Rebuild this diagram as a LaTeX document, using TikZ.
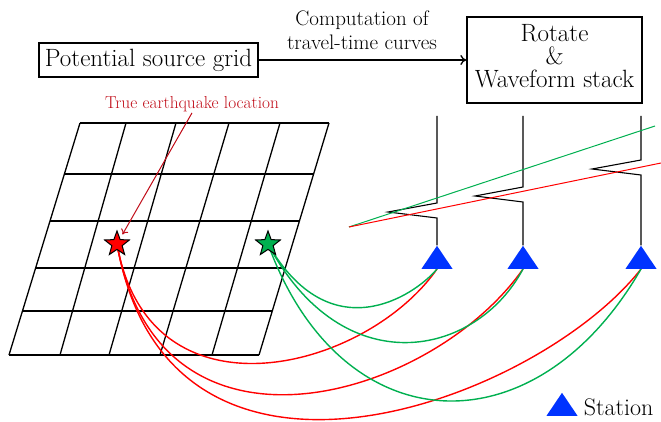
\documentclass[tikz,border=0pt]{standalone}
\usepackage{tikz}
\usetikzlibrary{positioning,arrows.meta,calc,shapes.geometric,backgrounds}
\definecolor{cervena}{RGB}{255,0,0}
\definecolor{zelena}{RGB}{0,176,80}
\definecolor{modra}{RGB}{0,51,255}
\definecolor{tmcervena}{RGB}{192,12,24}
\tikzset{
  ramec/.style={draw,line width=1.3pt,inner sep=4pt,align=center,font=\fontsize{25}{23}\selectfont},
  stanice/.style={isosceles triangle,isosceles triangle stretches,shape border rotate=90,fill=modra,minimum width=31pt,minimum height=23pt,inner sep=0pt},
  hvezda/.style={star,star points=5,star point ratio=2.4,minimum size=26pt,inner sep=0pt,draw=black,line width=1pt},
  stopa/.style={line width=1.1pt},
  mriz/.style={line width=1.3pt},
  paprsekR/.style={cervena,line width=1.4pt},
  paprsekG/.style={zelena,line width=1.4pt},
  sip/.style={-{To[length=6pt,width=10pt]},line width=1.3pt},
}
\begin{document}
\begin{tikzpicture}[x=1pt,y=-1pt]
\useasboundingbox (0,0) rectangle (661,422);
% blocks on top
\node[ramec,minimum width=219pt,minimum height=34pt] (zdroj) at (148.5,60) {Potential source grid};
\node[ramec,minimum width=175pt,minimum height=86pt,text depth=8pt] (stack) at (554.5,60) {Rotate\\\&\\Waveform stack};
\draw[sip] (zdroj) -- (stack);
\node[align=center,font=\fontsize{21}{24}\selectfont] (vypocet) at (362,30) {Computation of\\travel-time curves};
% grid
\begin{scope}[on background layer]
  \foreach \t/\b in {80/9,126/60,176/109,229/160,280/212,329/259}
    \draw[mriz] (\t,123) -- (\b,355);
  \foreach \y in {123,174,221,268,311,355}
    \draw[mriz] ({80-(\y-123)*0.306},\y) -- ({329-(\y-123)*0.302},\y);
\end{scope}
% stations and traces
\node[stanice,anchor=south] (s1) at (437,269) {};
\node[stanice,anchor=south] (s2) at (523,269) {};
\node[stanice,anchor=south] (s3) at (641,269) {};
\foreach \s/\h/\d in {s1/203/388,s2/187/475,s3/160/592}
  \draw[stopa] (\s.apex |- 0,116) -- (\s.apex |- 0,\h) -- (\d,\h+9) -- (\s.apex |- 0,\h+15) -- (\s.apex);
\coordinate (pocatek) at (349,227);
\coordinate (konecG) at (655,126);
\coordinate (konecR) at (661,163);
\draw[zelena,line width=1pt] (pocatek) -- (konecG);
\draw[cervena,line width=1pt] (pocatek) -- (konecR);
% sources
\node[hvezda,fill=cervena] (rz) at (117,244) {};
\node[hvezda,fill=zelena] (gz) at (268,244) {};
\begin{scope}[on background layer]
  \draw[paprsekR] (rz.center) .. controls +(-80:185pt) and +(-125:125pt) .. (s1.south);
  \draw[paprsekR] (rz.center) .. controls +(-80:240pt) and +(-125:159pt) .. (s2.south);
  \draw[paprsekR] (rz.center) .. controls +(-80:300pt) and +(-128:168pt) .. (s3.south);
  \draw[paprsekG] (gz.center) .. controls +(-60:124pt) and +(-130:36pt) .. (s1.south);
  \draw[paprsekG] (gz.center) .. controls +(-62:160pt) and +(-118:100pt) .. (s2.south);
  \draw[paprsekG] (gz.center) .. controls +(-70:213pt) and +(-120:213pt) .. (s3.south);
\end{scope}
\node[text=tmcervena,font=\fontsize{17.3}{20}\selectfont,inner sep=1pt] (popis) at (192,104) {True earthquake location};
\draw[-{To[length=5pt,width=8pt]},tmcervena,line width=1pt,shorten >=11pt] (popis.south) -- (rz.center);
% legend
\node[stanice,anchor=south] (legenda) at (562,416) {};
\node[right=8pt of legenda,font=\fontsize{24}{26}\selectfont] (legtext) {Station};
\end{tikzpicture}
\end{document}
